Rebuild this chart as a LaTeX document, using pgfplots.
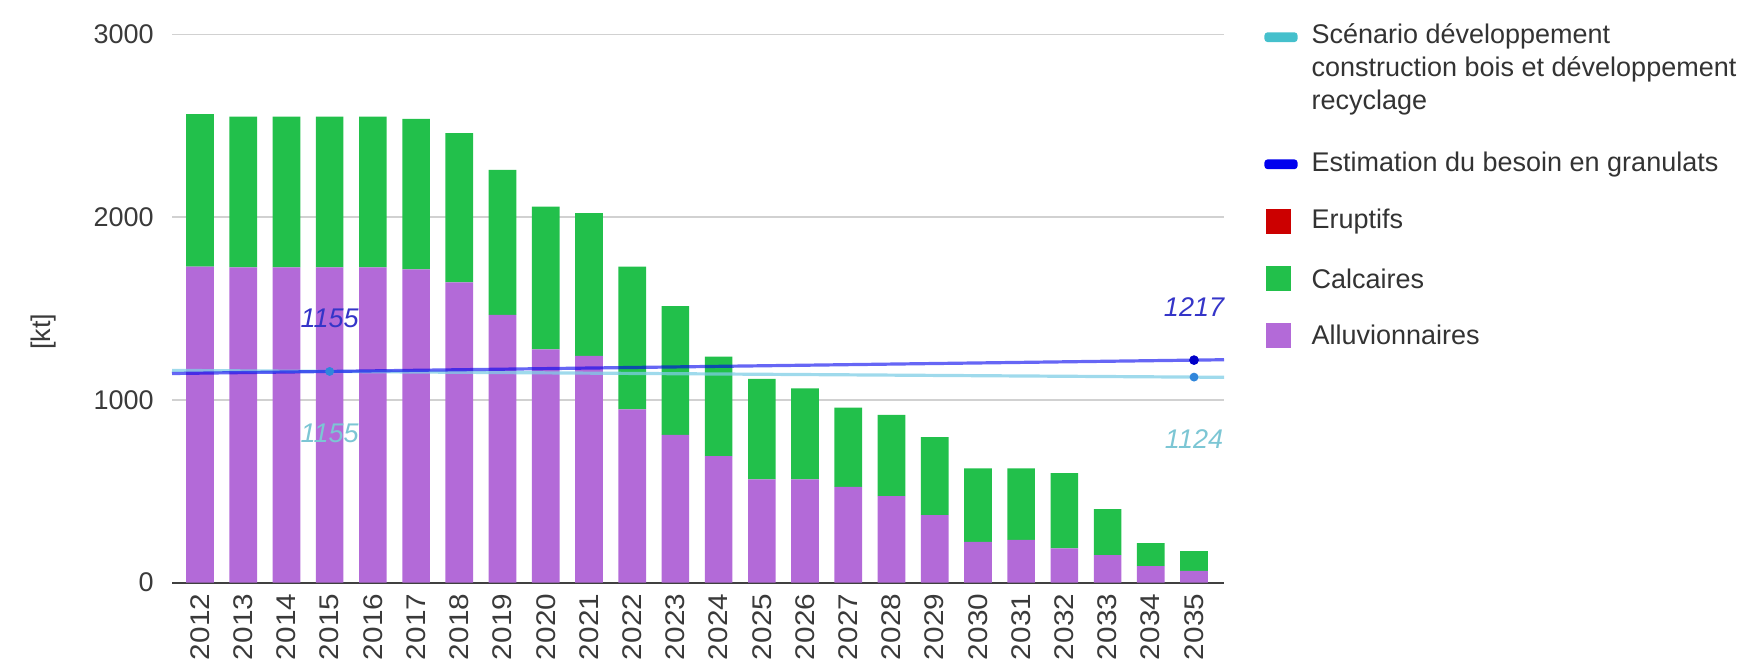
\documentclass[border=0pt]{standalone}
\usepackage{pgfplots}
\pgfplotsset{compat=1.18}
\usepackage{pgfplotstable}
\usepackage{fontspec}
\setmainfont{Liberation Sans}

\definecolor{alluv}{HTML}{B36AD8}
\definecolor{calc}{HTML}{22C04B}
\definecolor{erupt}{HTML}{CC0000}
\definecolor{besoin}{HTML}{0000EE}
\definecolor{besoindot}{HTML}{0000C8}
\definecolor{besoinlab}{HTML}{3535C8}
\definecolor{scen}{HTML}{45C0CC}
\definecolor{scenline}{HTML}{7FCDE6}
\definecolor{scenlab}{HTML}{7CC6D4}
\definecolor{txt}{HTML}{3A3A3A}

% annee, alluvionnaires, calcaires, eruptifs [kt]
\pgfplotstableread{
annee alluv calc erupt
2012 1729 834 0
2013 1725 825 0
2014 1725 825 0
2015 1725 825 0
2016 1725 825 0
2017 1714 823 0
2018 1643 816 0
2019 1464 794 0
2020 1276 781 0
2021 1240 781 0
2022 947 782 0
2023 808 705 0
2024 692 544 0
2025 565 549 0
2026 565 498 0
2027 524 433 0
2028 473 444 0
2029 369 426 0
2030 223 402 0
2031 233 392 0
2032 187 411 0
2033 150 251 0
2034 90 125 0
2035 63 109 0
}\granulats

\pgfplotsset{
  base/.style={
    at={(86pt,44.25pt)}, anchor=south west,
    scale only axis, width=526pt, height=274.1pt,
    xmin=2011.352, xmax=2035.694, ymin=0, ymax=3000,
    font=\fontsize{13.5}{16.5}\selectfont,
    /pgf/number format/1000 sep={},
    /pgf/number format/assume math mode=true,
  }
}

\begin{document}
\begin{tikzpicture}
\useasboundingbox (0,0) rectangle (870pt,335.5pt);

\begin{axis}[base,
  ybar stacked, bar width=0.64,
  xtick={2012,...,2035}, ytick={0,1000,2000,3000},
  ymajorgrids, grid style={line width=0.75pt, color=black!18},
  axis x line*=bottom, axis y line*=left,
  x axis line style={-, line width=1pt, color=black!75},
  y axis line style={draw=none},
  major tick length=0pt, tick style={draw=none},
  tick label style={text=txt},
  xticklabel style={rotate=90, xscale=1.1, anchor=east, inner xsep=5pt, inner ysep=0pt},
  yticklabel style={anchor=east, inner xsep=9pt, inner ysep=0pt},
  ylabel={[kt]},
  ylabel style={at={(axis description cs:-0.1217,0.457)}, anchor=center, text=txt},
]
\addplot[fill=alluv, draw=none] table[x=annee, y=alluv] {\granulats};
\addplot[fill=calc, draw=none] table[x=annee, y=calc] {\granulats};
\addplot[fill=erupt, draw=none] table[x=annee, y=erupt] {\granulats};
\end{axis}

\begin{axis}[base, hide axis, clip=false,
  legend cell align=left,
  legend style={at={(rel axis cs:1,1)}, anchor=north west,
    xshift=20pt, yshift=7pt, draw=none, fill=none, inner sep=0pt,
    row sep=16pt, cells={anchor=west},
    nodes={inner sep=0pt, text depth=, text=black!80},
    font=\fontsize{13.5}{16.5}\selectfont},
  /tikz/every odd column/.append style={column sep=7pt},
]
\addplot[scenline, line width=1.6pt, opacity=0.75,
  legend image code/.code={\fill[scen, opacity=1, rounded corners=1pt] (0pt,14.85pt) rectangle (15pt,18.15pt);}]
  coordinates {(2011.352,1160.7) (2035.694,1122.9)};
\addlegendentry{\begin{tabular}{@{}l@{}}Scénario développement\\construction bois et développement\\recyclage\end{tabular}}

\addplot[besoin, line width=1.6pt, opacity=0.6,
  legend image code/.code={\fill[besoin, opacity=1, rounded corners=1pt] (0pt,-1.65pt) rectangle (15pt,1.65pt);}]
  coordinates {(2011.352,1143.7) (2035.694,1219.1)};
\addlegendentry{Estimation du besoin en granulats}

\addlegendimage{legend image code/.code={\fill[erupt] (0pt,-6pt) rectangle (12pt,6pt);}}
\addlegendentry{Eruptifs}
\addlegendimage{legend image code/.code={\fill[calc] (0pt,-6pt) rectangle (12pt,6pt);}}
\addlegendentry{Calcaires}
\addlegendimage{legend image code/.code={\fill[alluv] (0pt,-6pt) rectangle (12pt,6pt);}}
\addlegendentry{Alluvionnaires}

% points et etiquettes
\addplot[forget plot, only marks, mark=*, mark size=2.2pt, color=besoindot,
  nodes near coords, point meta=explicit symbolic,
  nodes near coords style={anchor=center, yshift=26.5pt, font=\fontsize{13.5}{16.5}\selectfont\itshape, text=besoinlab}]
  coordinates {(2035,1217) [1217]};
\addplot[forget plot, only marks, mark=none,
  nodes near coords, point meta=explicit symbolic,
  nodes near coords style={anchor=center, yshift=26.5pt, font=\fontsize{13.5}{16.5}\selectfont\itshape, text=besoinlab}]
  coordinates {(2015,1155) [1155]};
\addplot[forget plot, only marks, mark=*, mark size=2pt, color=scen!70!blue,
  nodes near coords, point meta=explicit symbolic,
  nodes near coords style={anchor=center, yshift=-31pt, font=\fontsize{13.5}{16.5}\selectfont\itshape, text=scenlab}]
  coordinates {(2015,1155) [1155] (2035,1124) [1124]};
\end{axis}
\end{tikzpicture}
\end{document}
